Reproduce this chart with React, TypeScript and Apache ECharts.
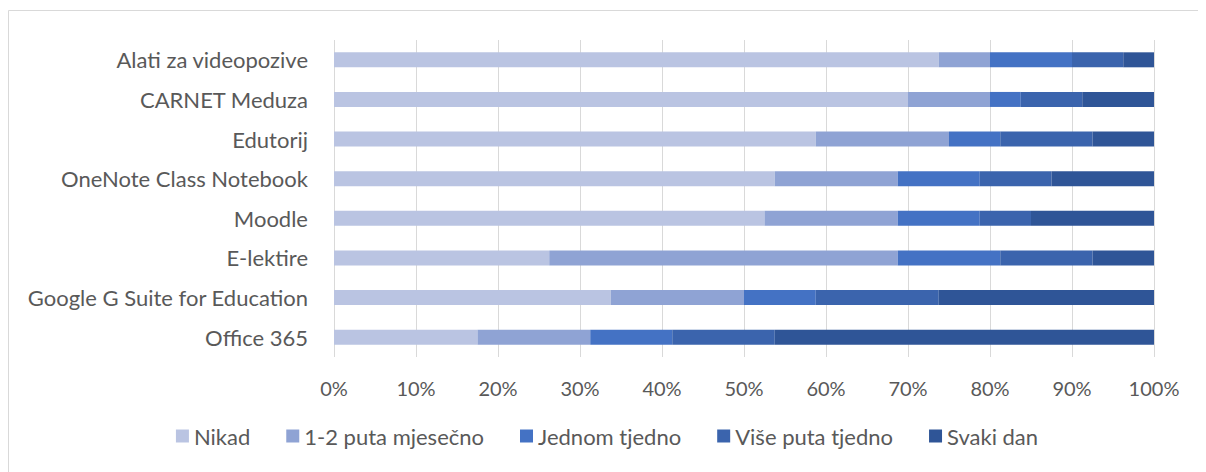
import React, { useEffect, useRef } from "react";
import * as echarts from "echarts";

const categories = [
  "Alati za videopozive",
  "CARNET Meduza",
  "Edutorij",
  "OneNote Class Notebook",
  "Moodle",
  "E-lektire",
  "Google G Suite for Education",
  "Office 365",
];

const seriesNames = ["Nikad", "1-2 puta mjesečno", "Jednom tjedno", "Više puta tjedno", "Svaki dan"];

const nikad = [73.75, 70, 58.75, 53.75, 52.5, 26.25, 33.75, 17.5];
const mjesecno = [6.25, 10, 16.25, 15, 16.25, 42.5, 16.25, 13.75];
const jednomTjedno = [10, 3.75, 6.25, 10, 10, 12.5, 8.75, 10];
const visePutaTjedno = [6.25, 7.5, 11.25, 8.75, 6.25, 11.25, 15, 12.5];
const svakiDan = [3.75, 8.75, 7.5, 12.5, 15, 7.5, 26.25, 46.25];

const colors = ["#BAC4E2", "#8FA3D4", "#4472C4", "#3B64AD", "#2F5597"];

export default function App() {
  const ref = useRef<HTMLDivElement>(null);
  useEffect(() => {
    if (!ref.current) return;
    const chart = echarts.init(ref.current, undefined, { renderer: "svg" });
    const font = "Lato, 'Open Sans', sans-serif";
    const data = [nikad, mjesecno, jednomTjedno, visePutaTjedno, svakiDan];
    chart.setOption({
      animation: false,
      textStyle: { fontFamily: font },
      grid: { left: 326, right: 52, top: 32, bottom: 115, containLabel: false },
      legend: {
        top: 412,
        left: "center",
        itemWidth: 13,
        itemHeight: 13,
        itemGap: 36,
        icon: "rect",
        textStyle: { fontFamily: font, fontSize: 22, color: "#595959" },
        data: seriesNames,
      },
      xAxis: {
        type: "value",
        min: 0,
        max: 100,
        interval: 10,
        axisLine: { show: false },
        axisTick: { show: false },
        splitLine: { show: true, lineStyle: { color: "#D9D9D9", width: 1 } },
        axisLabel: {
          formatter: "{value}%",
          fontFamily: font,
          fontSize: 20,
          color: "#595959",
          margin: 21,
        },
      },
      yAxis: {
        type: "category",
        data: categories,
        inverse: true,
        axisLine: { show: false },
        axisTick: { show: false },
        axisLabel: { fontFamily: font, fontSize: 22, color: "#595959", margin: 26 },
      },
      graphic: [
        { type: "line", shape: { x1: 0.5, y1: 2.5, x2: 1198, y2: 2.5 }, style: { stroke: "#D9D9D9", lineWidth: 1 } },
        { type: "line", shape: { x1: 0.5, y1: 2.5, x2: 0.5, y2: 464 }, style: { stroke: "#D9D9D9", lineWidth: 1 } },
      ],
      series: seriesNames.map((name, i) => ({
        name,
        type: "bar",
        stack: "total",
        barWidth: 15,
        itemStyle: { color: colors[i] },
        data: data[i],
      })),
    });
    return () => chart.dispose();
  }, []);
  return <div ref={ref} style={{ width: 1198, height: 464 }} />;
}
